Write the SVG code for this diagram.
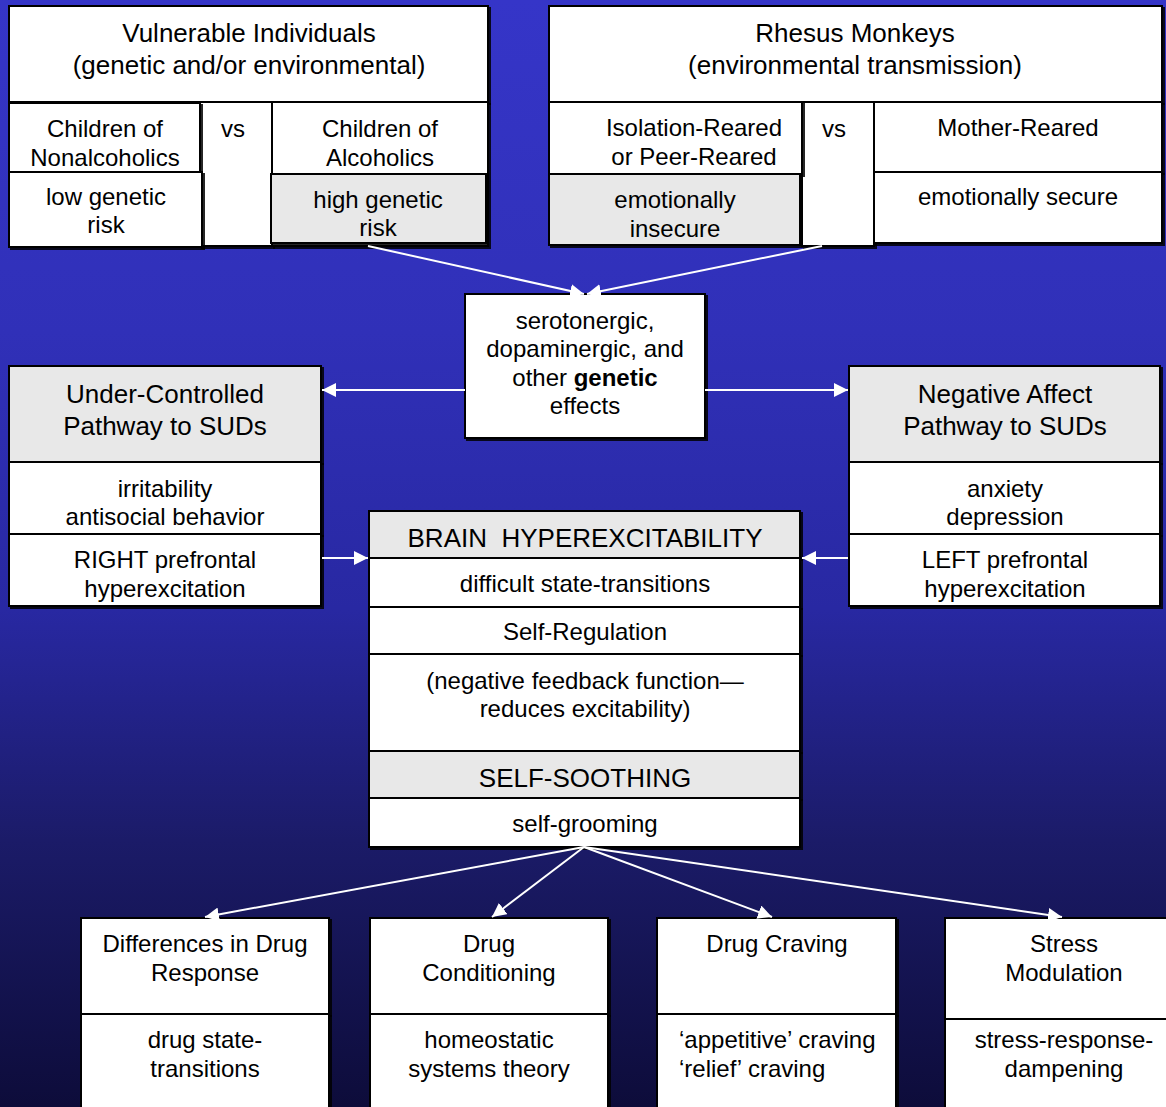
<svg xmlns="http://www.w3.org/2000/svg" width="1166" height="1107" viewBox="0 0 1166 1107">
<defs>
<linearGradient id="bg" x1="0" y1="0" x2="0" y2="1">
<stop offset="0" stop-color="#3535c8"/>
<stop offset="0.3" stop-color="#3030b8"/>
<stop offset="0.55" stop-color="#2828a2"/>
<stop offset="0.76" stop-color="#1b1b68"/>
<stop offset="1" stop-color="#0d0c3a"/>
</linearGradient>
<filter id="sh" x="-5%" y="-5%" width="110%" height="115%">
<feDropShadow dx="2" dy="2" stdDeviation="0.6" flood-color="#000" flood-opacity="0.85"/>
</filter>
<marker id="ah" viewBox="0 0 10 10" refX="10" refY="5" markerWidth="14" markerHeight="14" markerUnits="userSpaceOnUse" orient="auto">
<path d="M0,0 L10,5 L0,10 z" fill="#fff"/>
</marker>
<style>
.b{fill:#fff;stroke:#000;stroke-width:2;filter:url(#sh)}
.g{fill:#e8e8e8;stroke:#000;stroke-width:2;filter:url(#sh)}
text{font-family:"Liberation Sans",Arial,Helvetica,sans-serif;fill:#000;text-anchor:middle}
text.s{text-anchor:start}
.h{font-size:26px}
.t{font-size:24px}
.c line{stroke:#fff;stroke-width:2;marker-end:url(#ah)}
</style>
</defs>
<rect width="1166" height="1107" fill="url(#bg)"/>

<g id="vulnerable">
<rect class="b" x="9" y="6" width="479" height="96"/>
<text class="h" x="249" y="42">Vulnerable Individuals</text>
<text class="h" x="249" y="74">(genetic and/or environmental)</text>
</g>
<g id="vs-left">
<rect class="b" x="200" y="102" width="72" height="144"/>
<text class="t" x="233" y="137">vs</text>
</g>
<g id="children-nonalcoholics">
<rect class="b" x="9" y="103" width="191" height="69"/>
<text class="t" x="105" y="137">Children of</text>
<text class="t" x="105" y="166">Nonalcoholics</text>
</g>
<g id="low-risk">
<rect class="b" x="9" y="172" width="193" height="75"/>
<text class="t" x="106" y="205">low genetic</text>
<text class="t" x="106" y="233">risk</text>
</g>
<g id="children-alcoholics">
<rect class="b" x="272" y="102" width="216" height="144"/>
<text class="t" x="380" y="137">Children of</text>
<text class="t" x="380" y="166">Alcoholics</text>
</g>
<g id="high-risk">
<rect class="g" x="271" y="174" width="215" height="69"/>
<text class="t" x="378" y="208">high genetic</text>
<text class="t" x="378" y="236">risk</text>
</g>

<g id="rhesus">
<rect class="b" x="549" y="6" width="613" height="96"/>
<text class="h" x="855" y="42">Rhesus Monkeys</text>
<text class="h" x="855" y="74">(environmental transmission)</text>
</g>
<g id="vs-right">
<rect class="b" x="802" y="102" width="72" height="144"/>
<text class="t" x="834" y="137">vs</text>
</g>
<g id="isolation">
<rect class="b" x="549" y="102" width="253" height="72"/>
<text class="t" x="694" y="136">Isolation-Reared</text>
<text class="t" x="694" y="165">or Peer-Reared</text>
</g>
<g id="insecure">
<rect class="g" x="549" y="174" width="251" height="71"/>
<text class="t" x="675" y="208">emotionally</text>
<text class="t" x="675" y="237">insecure</text>
</g>
<g id="mother">
<rect class="b" x="874" y="102" width="288" height="70"/>
<text class="t" x="1018" y="136">Mother-Reared</text>
</g>
<g id="secure">
<rect class="b" x="874" y="172" width="288" height="71"/>
<text class="t" x="1018" y="205">emotionally secure</text>
</g>

<g id="genetic">
<rect class="b" x="465" y="294" width="240" height="144"/>
<text class="t" x="585" y="329">serotonergic,</text>
<text class="t" x="585" y="357">dopaminergic, and</text>
<text class="t" x="585" y="386">other <tspan font-weight="bold">genetic</tspan></text>
<text class="t" x="585" y="414">effects</text>
</g>

<g id="under-controlled">
<rect class="g" x="9" y="366" width="312" height="96"/>
<rect class="b" x="9" y="462" width="312" height="72"/>
<rect class="b" x="9" y="534" width="312" height="72"/>
<text class="h" x="165" y="403">Under-Controlled</text>
<text class="h" x="165" y="435">Pathway to SUDs</text>
<text class="t" x="165" y="497">irritability</text>
<text class="t" x="165" y="525">antisocial behavior</text>
<text class="t" x="165" y="568">RIGHT prefrontal</text>
<text class="t" x="165" y="597">hyperexcitation</text>
</g>

<g id="negative-affect">
<rect class="g" x="849" y="366" width="311" height="96"/>
<rect class="b" x="849" y="462" width="311" height="72"/>
<rect class="b" x="849" y="534" width="311" height="72"/>
<text class="h" x="1005" y="403">Negative Affect</text>
<text class="h" x="1005" y="435">Pathway to SUDs</text>
<text class="t" x="1005" y="497">anxiety</text>
<text class="t" x="1005" y="525">depression</text>
<text class="t" x="1005" y="568">LEFT prefrontal</text>
<text class="t" x="1005" y="597">hyperexcitation</text>
</g>

<g id="brain">
<rect class="g" x="369" y="511" width="431" height="47"/>
<rect class="b" x="369" y="558" width="431" height="49"/>
<rect class="b" x="369" y="607" width="431" height="47"/>
<rect class="b" x="369" y="654" width="431" height="97"/>
<rect class="g" x="369" y="751" width="431" height="47"/>
<rect class="b" x="369" y="798" width="431" height="49"/>
<text class="h" x="585" y="547" xml:space="preserve">BRAIN  HYPEREXCITABILITY</text>
<text class="t" x="585" y="592">difficult state-transitions</text>
<text class="t" x="585" y="640">Self-Regulation</text>
<text class="t" x="585" y="689">(negative feedback function—</text>
<text class="t" x="585" y="717">reduces excitability)</text>
<text class="h" x="585" y="787">SELF-SOOTHING</text>
<text class="t" x="585" y="832">self-grooming</text>
</g>

<g id="drug-response">
<rect class="b" x="81" y="918" width="248" height="96"/>
<rect class="b" x="81" y="1014" width="248" height="100"/>
<text class="t" x="205" y="952">Differences in Drug</text>
<text class="t" x="205" y="981">Response</text>
<text class="t" x="205" y="1048">drug state-</text>
<text class="t" x="205" y="1077">transitions</text>
</g>
<g id="drug-conditioning">
<rect class="b" x="370" y="918" width="238" height="96"/>
<rect class="b" x="370" y="1014" width="238" height="100"/>
<text class="t" x="489" y="952">Drug</text>
<text class="t" x="489" y="981">Conditioning</text>
<text class="t" x="489" y="1048">homeostatic</text>
<text class="t" x="489" y="1077">systems theory</text>
</g>
<g id="drug-craving">
<rect class="b" x="657" y="918" width="239" height="96"/>
<rect class="b" x="657" y="1014" width="239" height="100"/>
<text class="t" x="777" y="952">Drug Craving</text>
<text class="t s" x="679" y="1048">‘appetitive’ craving</text>
<text class="t s" x="679" y="1077">‘relief’ craving</text>
</g>
<g id="stress">
<rect class="b" x="945" y="918" width="230" height="101"/>
<rect class="b" x="945" y="1019" width="230" height="100"/>
<text class="t" x="1064" y="952">Stress</text>
<text class="t" x="1064" y="981">Modulation</text>
<text class="t" x="1064" y="1048">stress-response-</text>
<text class="t" x="1064" y="1077">dampening</text>
</g>

<g id="connectors" class="c">
<line x1="368" y1="246" x2="584" y2="294"/>
<line x1="822" y1="246" x2="587" y2="294"/>
<line x1="465" y1="390" x2="322" y2="390"/>
<line x1="705" y1="390" x2="848" y2="390"/>
<line x1="322" y1="558" x2="368" y2="558"/>
<line x1="848" y1="558" x2="802" y2="558"/>
<line x1="584" y1="847" x2="205" y2="917"/>
<line x1="584" y1="847" x2="492" y2="917"/>
<line x1="584" y1="847" x2="772" y2="917"/>
<line x1="584" y1="847" x2="1062" y2="917"/>
</g>
</svg>
